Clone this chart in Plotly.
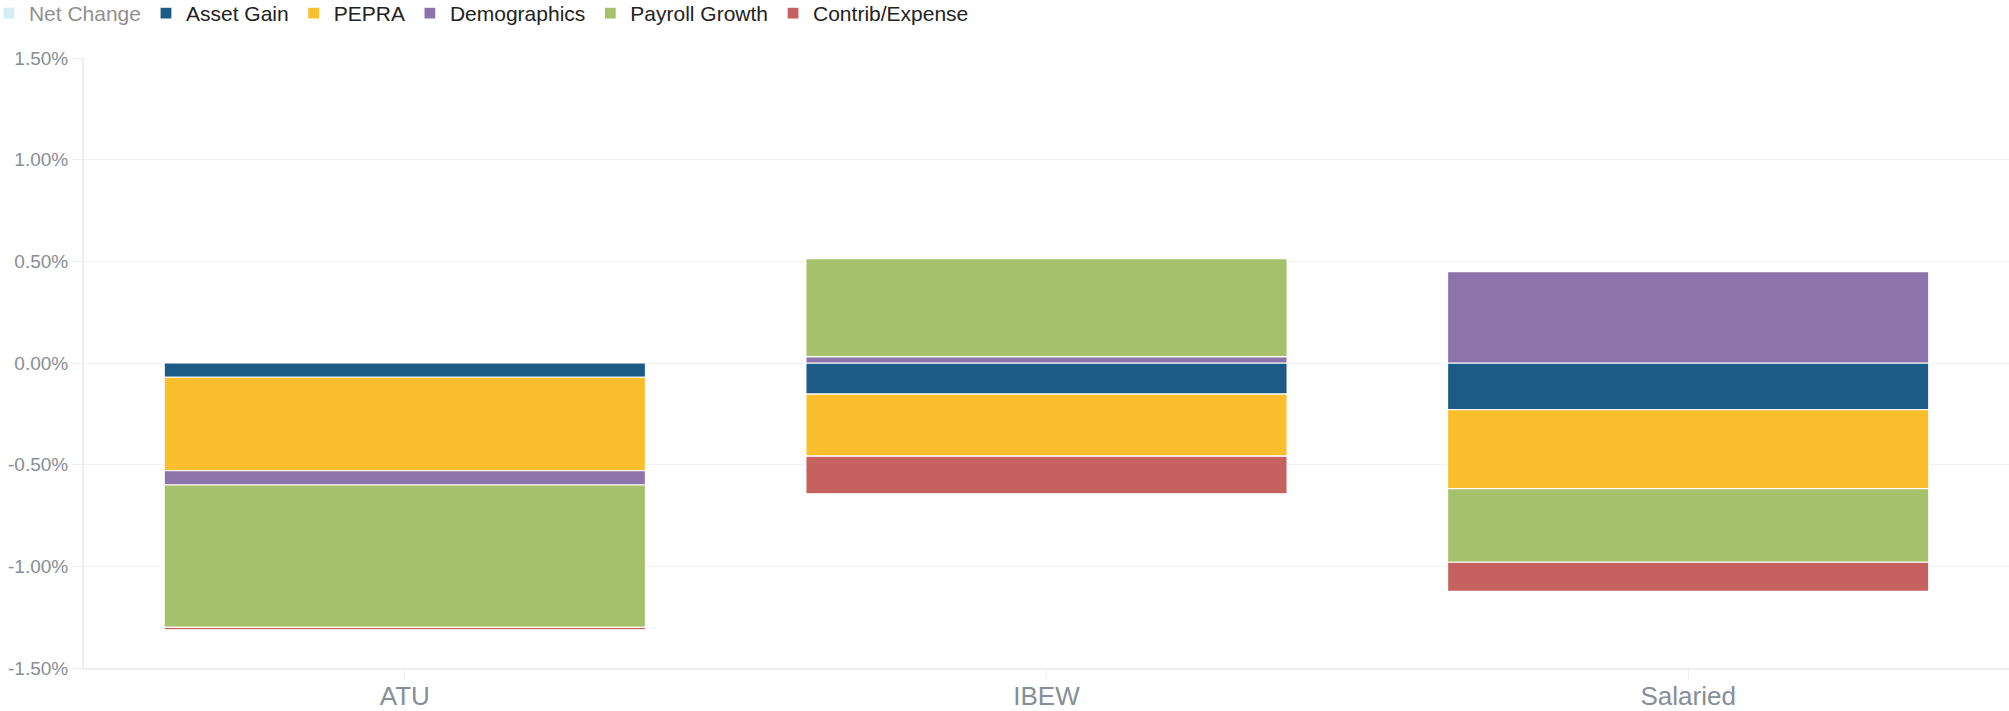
import plotly.graph_objects as go

categories = ["ATU", "IBEW", "Salaried"]

net_change = [-1.31, -0.13, -0.67]
asset_gain = [-0.07, -0.153, -0.23]
pepra = [-0.46, -0.305, -0.388]
demographics = [-0.07, 0.031, 0.449]
payroll_growth = [-0.70, 0.482, -0.362]
contrib_expense = [-0.012, -0.185, -0.143]

y_tick_values = [-1.5, -1.0, -0.5, 0.0, 0.5, 1.0, 1.5]
y_tick_labels = ["-1.50%", "-1.00%", "-0.50%", "0.00%", "0.50%", "1.00%", "1.50%"]

series = [
    ("Net Change", net_change, "#a9dfe6", "legendonly"),
    ("Asset Gain", asset_gain, "#1c5b85", True),
    ("PEPRA", pepra, "#fbbe2c", True),
    ("Demographics", demographics, "#8c74aa", True),
    ("Payroll Growth", payroll_growth, "#a6c16c", True),
    ("Contrib/Expense", contrib_expense, "#c5615e", True),
]

FONT = "Liberation Sans, Arial, sans-serif"

fig = go.Figure()
for name, vals, color, vis in series:
    fig.add_trace(go.Bar(
        name=name, x=categories, y=vals, visible=vis,
        marker=dict(color=color, line=dict(color="#ffffff", width=1.2)),
    ))

fig.update_layout(
    width=2009, height=711,
    barmode="relative", bargap=0.25,
    plot_bgcolor="#ffffff", paper_bgcolor="#ffffff",
    margin=dict(l=84, r=0, t=58, b=43, autoexpand=False),
    font=dict(family=FONT, color="#333333"),
    legend=dict(
        orientation="h", x=-0.0494, xanchor="left", y=1.1066, yanchor="top",
        bgcolor="rgba(0,0,0,0)",
        font=dict(size=21, color="#222222", family=FONT),
        traceorder="normal", itemclick=False,
    ),
    showlegend=True,
)
fig.update_yaxes(
    range=[-1.5, 1.5], tickmode="array", tickvals=y_tick_values, ticktext=y_tick_labels,
    showgrid=True, gridcolor="#f2f2f2", gridwidth=1,
    zeroline=False, showline=True, linecolor="#eeeeee", linewidth=2,
    ticks="outside", ticklen=10, tickcolor="#eeeeee", tickwidth=1,
    tickfont=dict(size=19, color="#868e96", family=FONT),
)
fig.update_xaxes(
    showline=True, linecolor="#eeeeee", linewidth=2,
    ticks="outside", ticklen=10, tickcolor="#eeeeee", tickwidth=1,
    ticklabelstandoff=-6,
    tickfont=dict(size=26, color="#868e96", family=FONT),
)

fig.write_html(
    "out.html",
    config={"displayModeBar": False},
    post_script="document.body.style.margin='0';",
)
